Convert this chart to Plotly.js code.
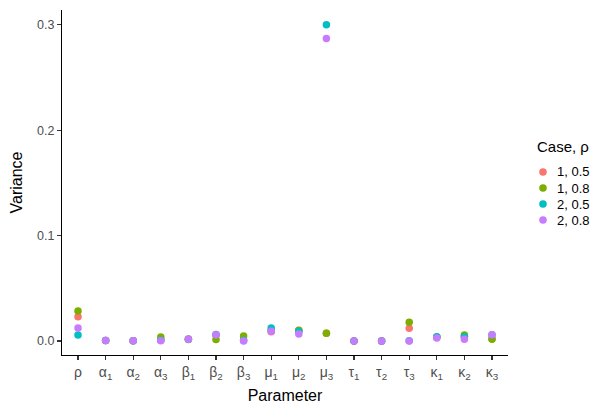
<!DOCTYPE html>
<html>
<head>
<meta charset="utf-8">
<script src="https://cdn.plot.ly/plotly-3.0.1.min.js"></script>
<style>html,body{margin:0;padding:0;background:#fff;}#chart{width:604px;height:406px;}</style>
</head>
<body>
<div id="chart"></div>
<script>
const categories = ["ρ","α<sub>1</sub>","α<sub>2</sub>","α<sub>3</sub>","β<sub>1</sub>","β<sub>2</sub>","β<sub>3</sub>","μ<sub>1</sub>","μ<sub>2</sub>","μ<sub>3</sub>","τ<sub>1</sub>","τ<sub>2</sub>","τ<sub>3</sub>","κ<sub>1</sub>","κ<sub>2</sub>","κ<sub>3</sub>"];
const seriesNames = ["1, 0.5","1, 0.8","2, 0.5","2, 0.8"];
const case1_05 = [0.0230,0.0004,0.0003,0.0010,0.0018,0.0060,0.0010,0.0088,0.0100,0.0073,0.0001,0.0001,0.0120,0.0036,0.0040,0.0020];
const case1_08 = [0.0285,0.0004,0.0003,0.0038,0.0013,0.0013,0.0047,0.0100,0.0102,0.0073,0.0001,0.0001,0.0178,0.0038,0.0057,0.0016];
const case2_05 = [0.0057,0.0004,0.0003,0.0008,0.0016,0.0062,0.0005,0.0123,0.0090,0.3000,0.0001,0.0001,0.0002,0.0040,0.0040,0.0060];
const case2_08 = [0.0123,0.0004,0.0003,0.0003,0.0016,0.0060,0.0000,0.0092,0.0067,0.2870,0.0001,0.0001,0.0000,0.0028,0.0016,0.0060];
const colors = ["#F8766D","#7CAE00","#00BFC4","#C77CFF"];
const seriesValues = [case1_05, case1_08, case2_05, case2_08];
const legendTitle = "Case, ρ";

const traces = seriesValues.map((vals, i) => ({
  type: "scatter", mode: "markers",
  x: categories, y: vals, name: seriesNames[i],
  marker: {color: colors[i], size: 7.5, line: {width: 0}},
  hoverinfo: "x+y", showlegend: false
}));

const font = "Liberation Sans, Arial, sans-serif";

// custom legend (paper coords), to match ggplot key spacing
const plotL = 62, plotT = 10, plotW = 446, plotH = 345;
const px2x = p => (p - plotL) / plotW;
const py2y = p => (plotT + plotH - p) / plotH;
const annotations = [{
  xref: "paper", yref: "paper", x: px2x(535), y: py2y(146), xanchor: "left", yanchor: "middle",
  text: legendTitle, showarrow: false, font: {family: font, size: 15, color: "#000"}
}];
const shapes = [];
seriesNames.forEach((n, i) => {
  const cy = 172 + 16 * i;
  shapes.push({type: "circle", xref: "paper", yref: "paper",
    x0: px2x(543 - 3.8), x1: px2x(543 + 3.8), y0: py2y(cy + 3.8), y1: py2y(cy - 3.8),
    fillcolor: colors[i], line: {width: 0}});
  annotations.push({xref: "paper", yref: "paper", x: px2x(555), y: py2y(cy), xanchor: "left", yanchor: "middle",
    text: n, showarrow: false, font: {family: font, size: 13, color: "#000"}});
});

const layout = {
  width: 604, height: 406,
  margin: {l: 62, r: 96, t: 10, b: 51, autoexpand: false},
  paper_bgcolor: "#fff", plot_bgcolor: "#fff",
  font: {family: font, color: "#000"},
  showlegend: false,
  xaxis: {
    type: "category", categoryorder: "array", categoryarray: categories,
    range: [-0.58, 15.58],
    showgrid: false, zeroline: false,
    showline: true, linecolor: "#000", linewidth: 1.1,
    ticks: "outside", ticklen: 4, tickcolor: "#333", tickwidth: 1.1,
    tickfont: {family: font, size: 14, color: "#4d4d4d"},
    title: {text: "Parameter", font: {family: font, size: 16, color: "#000"}, standoff: 9}
  },
  yaxis: {
    range: [-0.0133, 0.314],
    tickvals: [0, 0.1, 0.2, 0.3], ticktext: ["0.0","0.1","0.2","0.3"],
    showgrid: false, zeroline: false,
    showline: true, linecolor: "#000", linewidth: 1.1,
    ticks: "outside", ticklen: 4, tickcolor: "#333", tickwidth: 1.1,
    tickfont: {family: font, size: 12.5, color: "#4d4d4d"},
    title: {text: "Variance", font: {family: font, size: 16, color: "#000"}, standoff: 10}
  },
  annotations: annotations,
  shapes: shapes
};

Plotly.newPlot("chart", traces, layout, {displayModeBar: false, staticPlot: true});
</script>
</body>
</html>
